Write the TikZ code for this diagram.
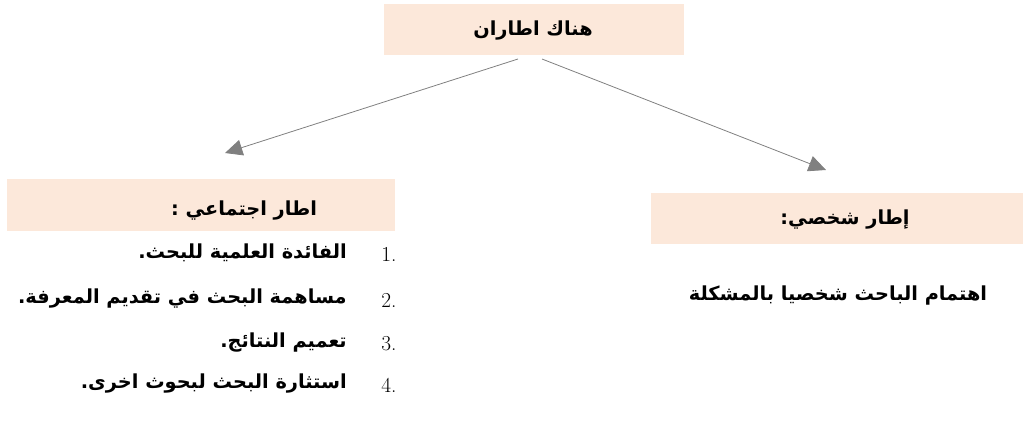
\documentclass[tikz,border=0pt]{standalone}
\usepackage{fontspec}
\usepackage{tikz}
\usetikzlibrary{arrows.meta}
\TeXXeTstate=1
\newfontfamily\arabicfont[Script=Arabic]{DejaVu Sans}
\definecolor{peach}{HTML}{FCE8DA}
\tikzstyle{heading} = [rectangle, fill=peach, inner sep=0pt, anchor=north west]
\tikzstyle{artext} = [font=\arabicfont\bfseries\fontsize{14.5}{16}\selectfont, inner sep=0pt]
\tikzstyle{num} = [font=\fontsize{16}{18}\selectfont, inner sep=0pt, anchor=west]
\tikzstyle{arrow} = [line width=0.6pt, -{Triangle[length=13pt, width=12pt]}, color=gray]

\begin{document}
\begin{tikzpicture}[x=0.75pt, y=-0.75pt]
\useasboundingbox (0,0) rectangle (1025,443);

% Boxes
\node (top) [heading, minimum width=225pt, minimum height=38.25pt] at (384,4) {};
\node (social) [heading, minimum width=291pt, minimum height=39pt] at (7,179) {};
\node (personal) [heading, minimum width=279pt, minimum height=38.25pt] at (651,193) {};

% Headings
\node (toptext) [artext] at (533,31) {\beginR هناك اطاران\endR};
\node (socialtext) [artext] at (244,211) {\beginR اطار اجتماعي :\endR};
\node (personaltext) [artext] at (845,220) {\beginR إطار شخصي:\endR};

% Social list
\node (n1) [num] at (381,254) {1.};
\node (n2) [num] at (381,300) {2.};
\node (n3) [num] at (381,344) {3.};
\node (n4) [num] at (381,385) {4.};
\node (i1) [artext, anchor=east] at (347,253) {\beginR الفائدة العلمية للبحث.\endR};
\node (i2) [artext, anchor=east] at (347,299) {\beginR مساهمة البحث في تقديم المعرفة.\endR};
\node (i3) [artext, anchor=east] at (347,343) {\beginR تعميم النتائج.\endR};
\node (i4) [artext, anchor=east] at (347,384) {\beginR استثارة البحث لبحوث اخرى.\endR};

% Personal text
\node (p1) [artext] at (838,296) {\beginR اهتمام الباحث شخصيا بالمشكلة\endR};

% Arrows
\coordinate (lstart) at (518,59);
\coordinate (rstart) at (542,59);
\coordinate (ltip) at (225,153);
\coordinate (rtip) at (826,170);
\draw [arrow] (lstart) -- (ltip);
\draw [arrow] (rstart) -- (rtip);

\end{tikzpicture}
\end{document}
